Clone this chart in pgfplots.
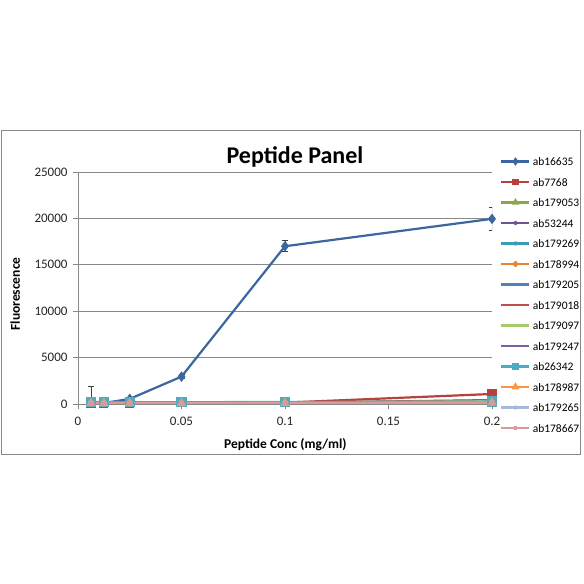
\documentclass[border=0pt]{standalone}
\usepackage{fontspec}
\setmainfont{Carlito}
\usepackage{pgfplots}
\pgfplotsset{compat=1.18}
\definecolor{c1}{HTML}{3C66A0}
\definecolor{c2}{HTML}{B8403D}
\definecolor{c3}{HTML}{8AA84A}
\definecolor{c4}{HTML}{6E5394}
\definecolor{c5}{HTML}{3A9CB5}
\definecolor{c6}{HTML}{E8862F}
\definecolor{c7}{HTML}{4F81BD}
\definecolor{c8}{HTML}{C0504D}
\definecolor{c9}{HTML}{A8C86E}
\definecolor{c10}{HTML}{7D60A0}
\definecolor{c11}{HTML}{4BACC6}
\definecolor{c12}{HTML}{F79646}
\definecolor{c13}{HTML}{A7B8DC}
\definecolor{c14}{HTML}{D99A99}
\definecolor{axgray}{HTML}{888888}
\begin{document}
\begin{tikzpicture}[x=1bp,y=1bp]
\fill[white] (0,0) rectangle (584,584);
\draw[axgray, line width=0.8bp] (1.5,130) rectangle (580,454);
\begin{axis}[
  at={(78bp,180bp)}, anchor=south west,
  scale only axis, width=414bp, height=232bp,
  xmin=0, xmax=0.2, ymin=0, ymax=25000,
  scaled y ticks=false, scaled x ticks=false,
  axis lines*=left,
  axis line style={axgray, line width=0.8bp},
  xtick={0,0.05,0.1,0.15,0.2},
  xticklabels={0,0.05,0.1,0.15,0.2},
  ytick={0,5000,10000,15000,20000,25000},
  yticklabels={0,5000,10000,15000,20000,25000},
  tick align=outside, major tick length=5bp,
  tick style={axgray, line width=0.8bp},
  ymajorgrids, grid style={axgray, line width=0.8bp},
  ticklabel style={font=\fontsize{13bp}{15bp}\selectfont, text=black!85},
  xticklabel style={yshift=-5bp},
  yticklabel style={xshift=-2bp},
  /pgf/number format/assume math mode=true,
  title={Peptide Panel},
  title style={font=\fontsize{24bp}{28bp}\selectfont\bfseries, at={(axis description cs:0.524,1.009)}, anchor=base},
  xlabel={Peptide Conc (mg/ml)},
  xlabel style={font=\fontsize{13.5bp}{16bp}\selectfont\bfseries, at={(axis description cs:0.501,-0.177)}, anchor=center},
  ylabel={Fluorescence},
  ylabel style={font=\fontsize{13.5bp}{16bp}\selectfont\bfseries, at={(axis description cs:-0.152,0.474)}, anchor=center},
  legend style={draw=none, fill=none, at={(axis description cs:1.012,1.073)}, anchor=north west,
    font=\fontsize{11.5bp}{13bp}\selectfont, row sep=12bp, column sep=2bp,
    nodes={inner sep=0pt, text height=8.5bp, text depth=0bp}},
  legend cell align=left,
  legend image code/.code={\draw[mark repeat=2,mark phase=2,#1, line width=2.6bp, mark options={scale=0.6, solid}] plot coordinates {(0bp,0bp)(14bp,0bp)(28bp,0bp)};},
  every axis plot/.append style={line width=2.2bp},
  clip marker paths=false,
]
\addplot[c1, mark=diamond*, mark size=3.5bp,
  error bars/.cd, y dir=both, y explicit,
  error bar style={black!75, line width=0.8bp},
  error mark options={rotate=90, black!75, mark size=3bp, line width=0.8bp}]
  coordinates {(0.00625,150) +- (0,1700) (0.0125,100) +- (0,50) (0.025,550) +- (0,100) (0.05,2950) +- (0,200) (0.1,17000) +- (0,600) (0.2,19950) +- (0,1250)};
\addplot[c2, mark=square*, mark size=3.5bp] coordinates {(0.00625,100) (0.0125,100) (0.025,100) (0.05,120) (0.1,150) (0.2,1080)};
\addplot[c3, mark=triangle*, mark size=3bp] coordinates {(0.00625,100) (0.0125,100) (0.025,110) (0.05,120) (0.1,150) (0.2,380)};
\addplot[c4, mark=x, mark size=3bp] coordinates {(0.00625,120) (0.0125,110) (0.025,110) (0.05,120) (0.1,130) (0.2,250)};
\addplot[c5, mark=asterisk, mark size=3bp] coordinates {(0.00625,130) (0.0125,120) (0.025,120) (0.05,130) (0.1,140) (0.2,300)};
\addplot[c6, mark=*, mark size=2.5bp] coordinates {(0.00625,100) (0.0125,100) (0.025,100) (0.05,100) (0.1,120) (0.2,200)};
\addplot[c7, mark=+, mark size=3bp] coordinates {(0.00625,110) (0.0125,100) (0.025,100) (0.05,110) (0.1,130) (0.2,220)};
\addplot[c8, mark=none] coordinates {(0.00625,100) (0.0125,100) (0.025,100) (0.05,110) (0.1,130) (0.2,420)};
\addplot[c9, mark=none] coordinates {(0.00625,100) (0.0125,100) (0.025,100) (0.05,110) (0.1,120) (0.2,300)};
\addplot[c10, mark=|, mark size=2bp] coordinates {(0.00625,100) (0.0125,100) (0.025,100) (0.05,100) (0.1,110) (0.2,200)};
\addplot[c11, mark=square*, mark size=4bp] coordinates {(0.00625,220) (0.0125,210) (0.025,200) (0.05,200) (0.1,210) (0.2,260)};
\addplot[c12, mark=triangle*, mark size=3.5bp] coordinates {(0.00625,90) (0.0125,90) (0.025,90) (0.05,90) (0.1,100) (0.2,150)};
\addplot[c13, mark=x, mark size=3bp] coordinates {(0.00625,90) (0.0125,90) (0.025,90) (0.05,90) (0.1,100) (0.2,150)};
\addplot[c14, mark=asterisk, mark size=3bp] coordinates {(0.00625,70) (0.0125,70) (0.025,70) (0.05,70) (0.1,80) (0.2,120)};
\legend{ab16635,ab7768,ab179053,ab53244,ab179269,ab178994,ab179205,ab179018,ab179097,ab179247,ab26342,ab178987,ab179265,ab178667}
\end{axis}
\end{tikzpicture}
\end{document}
